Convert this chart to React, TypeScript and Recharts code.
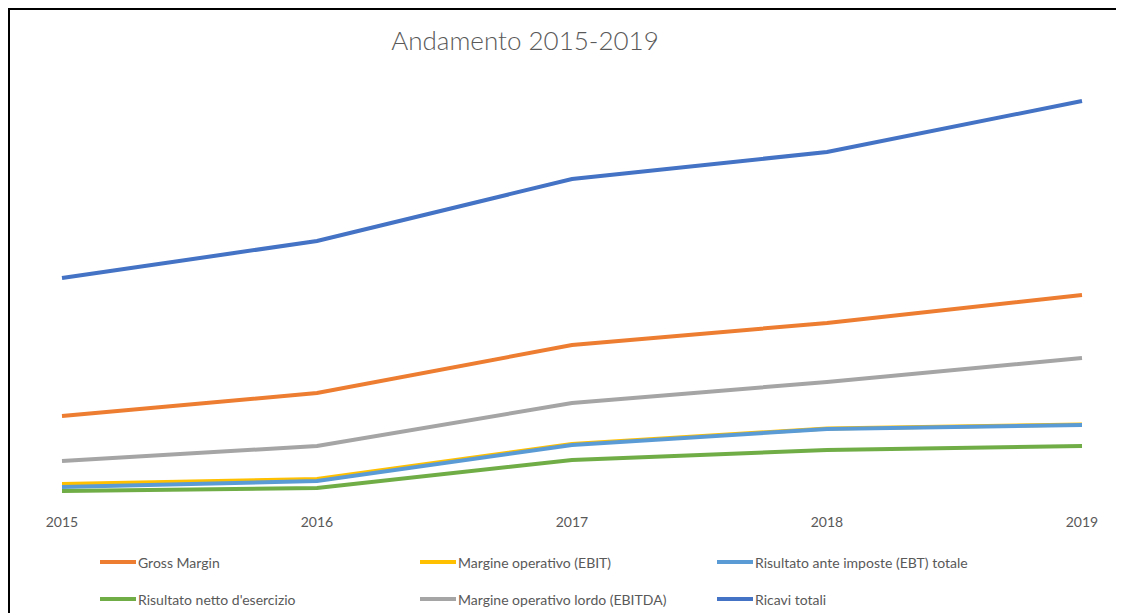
import React from "react";
import { LineChart, Line, XAxis, YAxis, Legend } from "recharts";

const years = ["2015", "2016", "2017", "2018", "2019"];
const grossMargin = [89, 112, 160, 182, 210];
const ebit = [21, 26, 61, 76.5, 80.5];
const ebt = [18, 24, 60, 76, 80];
const risultatoNetto = [14, 17, 45, 55, 59];
const ebitda = [44, 59, 102, 123, 147];
const ricavi = [227, 264, 326, 353, 404];

const seriesDefs = [
  { key: "gross", name: "Gross Margin", color: "#ED7D31", values: grossMargin },
  { key: "ebit", name: "Margine operativo (EBIT)", color: "#FFC000", values: ebit },
  { key: "ebt", name: "Risultato ante imposte (EBT) totale", color: "#5B9BD5", values: ebt },
  { key: "netto", name: "Risultato netto d'esercizio", color: "#70AD47", values: risultatoNetto },
  { key: "ebitda", name: "Margine operativo lordo (EBITDA)", color: "#A5A5A5", values: ebitda },
  { key: "ricavi", name: "Ricavi totali", color: "#4472C4", values: ricavi },
];

const data = years.map((y, i) => {
  const row: Record<string, string | number> = { year: y };
  seriesDefs.forEach((s) => {
    row[s.key] = s.values[i];
  });
  return row;
});

const FONT = "Lato, 'Open Sans', sans-serif";
const TEXT = "#595959";

const colLeft = [90, 410, 707];
const rowTop = [3, 40];

const CustomLegend = () => {
  return (
    <div style={{ position: "relative", width: 1100, height: 60 }}>
      {seriesDefs.map((p, i) => {
        const col = i % 3;
        const row = Math.floor(i / 3);
        return (
          <div
            key={p.key}
            style={{
              position: "absolute",
              left: colLeft[col],
              top: rowTop[row],
              display: "flex",
              alignItems: "center",
              whiteSpace: "nowrap",
              fontFamily: FONT,
              fontSize: 14,
              color: TEXT,
              height: 18,
            }}
          >
            <span
              style={{
                display: "inline-block",
                width: 36,
                height: 4,
                background: p.color,
                marginRight: 2,
              }}
            />
            <span>{p.name}</span>
          </div>
        );
      })}
    </div>
  );
};

export default function App() {
  return (
    <div
      style={{
        position: "relative",
        width: 1116,
        height: 605,
        borderTop: "2px solid #000",
        borderLeft: "2px solid #000",
        background: "#fff",
        boxSizing: "border-box",
        overflow: "hidden",
      }}
    >
      <div
        style={{
          position: "absolute",
          left: 0,
          width: 1030,
          top: 14,
          textAlign: "center",
          fontFamily: FONT,
          fontSize: 26,
          fontWeight: 300,
          color: TEXT,
          pointerEvents: "none",
        }}
      >
        Andamento 2015-2019
      </div>
      <LineChart
        width={1114}
        height={603}
        data={data}
        margin={{ top: 75, right: 42, bottom: 78, left: 52 }}
      >
        <XAxis
          dataKey="year"
          axisLine={false}
          tickLine={false}
          tickMargin={6}
          interval={0}
          tick={{ fill: TEXT, fontFamily: FONT, fontSize: 14 }}
          height={30}
        />
        <YAxis hide domain={[0, 420]} />
        <Legend
          layout="horizontal"
          verticalAlign="middle"
          align="center"
          content={<CustomLegend />}
          wrapperStyle={{ top: 540, left: 0, width: 1100, height: 60 }}
        />
        {seriesDefs.map((s) => (
          <Line
            key={s.key}
            type="linear"
            dataKey={s.key}
            name={s.name}
            stroke={s.color}
            strokeWidth={4}
            dot={false}
            activeDot={false}
            isAnimationActive={false}
          />
        ))}
      </LineChart>
    </div>
  );
}
